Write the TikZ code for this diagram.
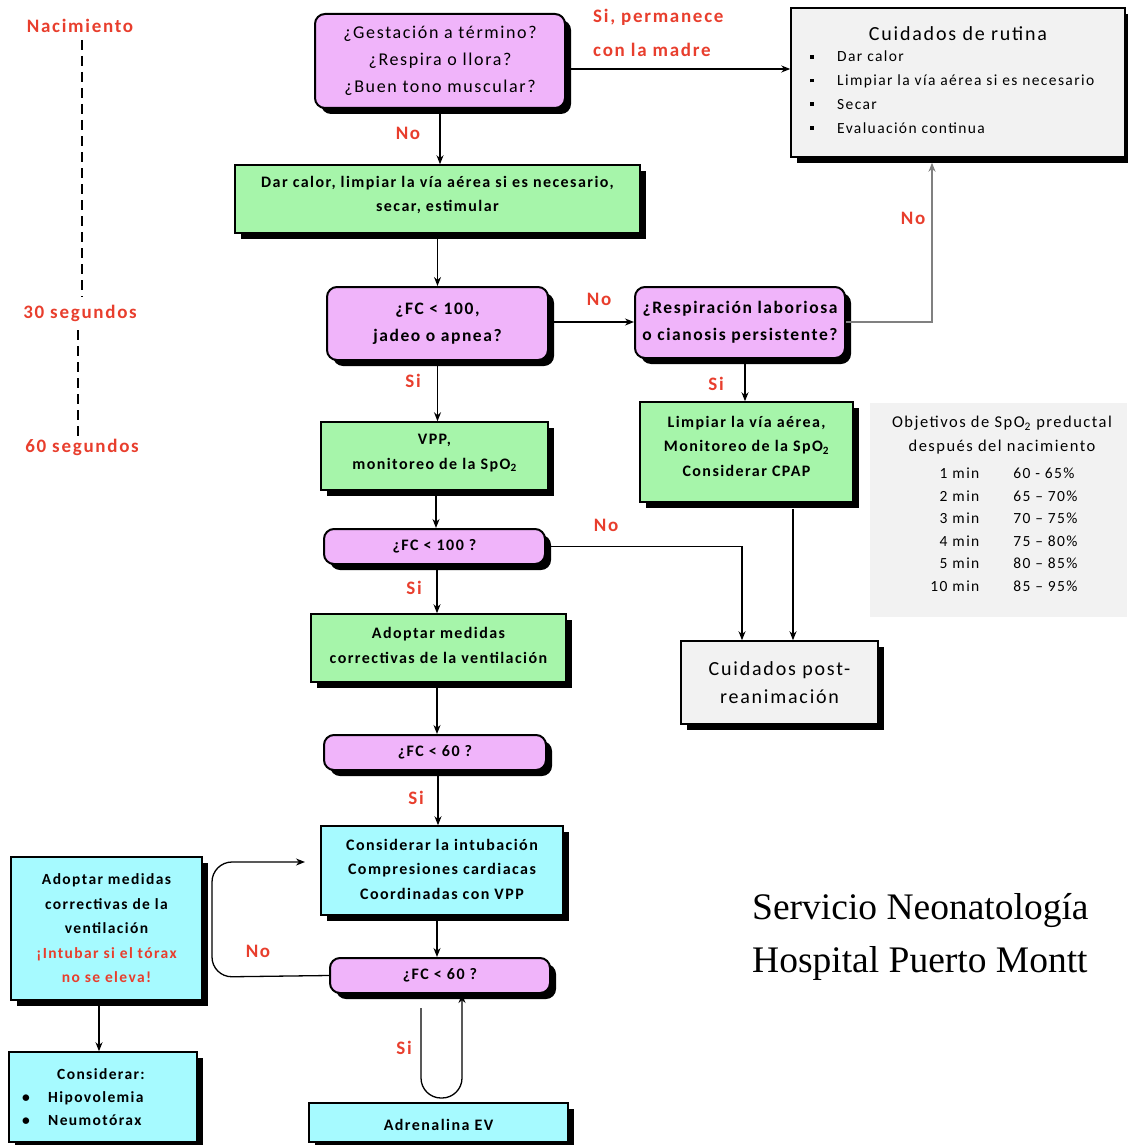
\documentclass[tikz,border=0pt]{standalone}
\usepackage{fontspec}
\setmainfont{Carlito}[LetterSpace=9]
\newfontfamily\serifont{Liberation Serif}
\usetikzlibrary{shadows,arrows.meta,calc}
\definecolor{pinkf}{RGB}{240,180,250}
\definecolor{greenf}{RGB}{166,245,170}
\definecolor{cyanf}{RGB}{166,250,255}
\definecolor{grayf}{RGB}{242,242,242}
\definecolor{redl}{RGB}{232,62,45}
\newcommand{\fsz}[2]{\fontsize{#1}{#2}\selectfont}
\newcommand{\sqb}{\raisebox{0.22em}{\rule{3.5pt}{3.5pt}}}
\begin{document}
\begin{tikzpicture}[x=1pt,y=-1pt,
  shadowed/.style={drop shadow={shadow xshift=6pt,shadow yshift=-6pt,fill=black,opacity=1}},
  box/.style={shadowed,draw=black,line width=1.5pt,inner sep=0pt,align=center,anchor=center},
  pinkbox/.style={box,fill=pinkf,rounded corners=10pt,line width=2pt},
  greenbox/.style={box,fill=greenf},
  cyanbox/.style={box,fill=cyanf},
  graybox/.style={box,fill=grayf},
  txt/.style={inner sep=0pt,align=center},
  arr/.style={draw=black,line width=1.3pt,-{Stealth[length=9pt,width=7pt]}},
  lbl/.style={text=redl,font=\fsz{19}{24}\bfseries,inner sep=0pt},
  tl/.style={text=redl,font=\fsz{19}{24}\bfseries,inner sep=0pt}
]
\useasboundingbox (0,0) rectangle (1127,1145);

% timeline
\node[tl] (nac) at (80,26) {Nacimiento};
\node[tl] (s30) at (80,313) {30 segundos};
\node[tl] (s60) at (82,447) {60 segundos};
\draw[line width=1.5pt,dash pattern=on 10pt off 6pt] (82,40) -- (82,297);
\draw[line width=1.5pt,dash pattern=on 10pt off 6pt] (78,330) -- (78,437);

% boxes
\node[pinkbox,minimum width=250pt,minimum height=94pt,font=\fsz{18}{27}] (gest) at (440,61)
  {¿Gestación a término?\\¿Respira o llora?\\¿Buen tono muscular?};
\node[graybox,minimum width=334pt,minimum height=149pt] (rut) at (958,82.5) {};
\node[font=\fsz{20}{24},inner sep=0pt] (rutt) at (958,34) {Cuidados de rutina};
\node[font=\fsz{15.5}{23.7},align=left,anchor=north west,inner sep=0pt] (rutl) at (810,51)
  {\makebox[27pt][l]{\sqb}Dar calor\\
   \makebox[27pt][l]{\sqb}Limpiar la vía aérea si es necesario\\
   \makebox[27pt][l]{\sqb}Secar\\
   \makebox[27pt][l]{\sqb}Evaluación continua};
\node[greenbox,minimum width=405pt,minimum height=68pt] (calor) at (437.5,199) {};
\node[txt,font=\fsz{16}{24}\bfseries] (calort) at (437.5,195)
  {Dar calor, limpiar la vía aérea si es necesario,\\secar, estimular};
\node[pinkbox,minimum width=221pt,minimum height=73pt,font=\fsz{17.5}{27}\bfseries] (fca) at (437.5,323.5)
  {¿FC < 100,\\jadeo o apnea?};
\node[pinkbox,minimum width=210pt,minimum height=71pt,font=\fsz{17.5}{27}\bfseries] (resp) at (740,322.5)
  {¿Respiración laboriosa\\o cianosis persistente?};
\node[greenbox,minimum width=227pt,minimum height=68pt] (vpp) at (434.5,456) {};
\node[txt,font=\fsz{16}{25}\bfseries] (vppt) at (434.5,453)
  {VPP,\\monitoreo de la SpO\textsubscript{2}};
\node[greenbox,minimum width=213pt,minimum height=100pt] (limp) at (746.5,452) {};
\node[txt,font=\fsz{16}{24.5}\bfseries] (limpt) at (746.5,446)
  {Limpiar la vía aérea,\\Monitoreo de la SpO\textsubscript{2}\\Considerar CPAP};
\node[fill=grayf,minimum width=257pt,minimum height=214pt,inner sep=0pt] (tab) at (998.5,510) {};
\node[font=\fsz{16.5}{24},align=center,inner sep=0pt,anchor=north] (tabt) at (1002,416)
  {Objetivos de SpO\textsubscript{2} preductal\\después del nacimiento};
\node[font=\fsz{15.5}{23.5},inner sep=0pt,anchor=north] (tabr) at (1004,462)
  {\begin{tabular}{@{}r@{\hspace{34pt}}l@{}}
  1 min & 60 - 65\%\\[-1pt]
  2 min & 65 -- 70\%\\[-1pt]
  3 min & 70 -- 75\%\\[-1pt]
  4 min & 75 -- 80\%\\[-1pt]
  5 min & 80 -- 85\%\\[-1pt]
  10 min & 85 -- 95\%
  \end{tabular}};
\node[pinkbox,minimum width=221pt,minimum height=35pt,font=\fsz{16}{20}\bfseries] (fcb) at (434.5,546.5) {¿FC < 100 ?};
\node[graybox,minimum width=197pt,minimum height=83pt,font=\fsz{20}{28}] (post) at (779.5,682.5)
  {Cuidados post-\\reanimación};
\node[greenbox,minimum width=255pt,minimum height=68pt] (adopt) at (438.5,648) {};
\node[txt,font=\fsz{16}{25}\bfseries] (adoptt) at (438.5,645)
  {Adoptar medidas\\correctivas de la ventilación};
\node[pinkbox,minimum width=222pt,minimum height=35pt,font=\fsz{16}{20}\bfseries] (fcc) at (435,752.5) {¿FC < 60 ?};
\node[cyanbox,minimum width=242pt,minimum height=89pt] (intub) at (442,870.5) {};
\node[txt,font=\fsz{16}{24.5}\bfseries] (intubt) at (442,869)
  {Considerar la intubación\\Compresiones cardiacas\\Coordinadas con VPP};
\node[pinkbox,minimum width=220pt,minimum height=35pt,font=\fsz{16}{20}\bfseries] (fcd) at (440,975.5) {¿FC < 60 ?};
\node[cyanbox,minimum width=191pt,minimum height=143pt,font=\fsz{15.5}{24.5}\bfseries] (left) at (106.5,928.5)
  {Adoptar medidas\\correctivas de la\\ventilación\\\textcolor{redl}{¡Intubar si el tórax}\\\textcolor{redl}{no se eleva!}};
\node[cyanbox,minimum width=188pt,minimum height=90pt] (consid) at (103,1097) {};
\node[font=\fsz{15.5}{23}\bfseries,align=left,anchor=north west,inner sep=0pt] (considt) at (22,1068)
  {\hspace*{35pt}Considerar:\\
   \makebox[26pt][l]{\textbullet}Hipovolemia\\
   \makebox[26pt][l]{\textbullet}Neumotórax};
\node[cyanbox,minimum width=259pt,minimum height=39pt] (adren) at (438.5,1122.5) {};
\node[txt,font=\fsz{16}{20}\bfseries] (adrent) at (438.5,1125) {Adrenalina EV};

% connectors
\draw[arr] (gest.east |- 0,69) -- (rut.west |- 0,69);
\node[lbl,anchor=west] (lsi1) at (593,17) {Si, permanece};
\node[lbl,anchor=west] (lsi2) at (593,50) {con la madre};
\draw[arr] (gest.south) -- (gest.south |- calor.north);
\node[lbl] (lno1) at (408,133) {No};
\draw[arr] (calor.south -| fca.north) -- (fca.north);
\draw[arr] (fca.east |- 0,322) -- (resp.west |- 0,322);
\node[lbl] (lno2) at (599,299) {No};
\coordinate (rutin) at ($(rut.south)+(-26,5)$);
\draw[arr,draw=gray] (resp.east |- 0,322) -| (rutin);
\node[lbl] (lno3) at (913,218) {No};
\draw[arr] (fca.south) -- (fca.south |- vpp.north);
\node[lbl] (lsi3) at (413,381) {Si};
\draw[arr] (resp.south -| 745,0) -- (limp.north -| 745,0);
\node[lbl] (lsi4) at (716,384) {Si};
\draw[arr] (vpp.south -| 436,0) -- (fcb.north -| 436,0);
\draw[arr] (fcb.east) -| (post.north -| 742,0);
\node[lbl] (lno4) at (606,525) {No};
\draw[arr] ($(limp.south -| 793,0)+(0,6)$) -- (post.north -| 793,0);
\draw[arr] (fcb.south -| 437,0) -- (adopt.north -| 437,0);
\node[lbl] (lsi5) at (414,588) {Si};
\draw[arr] (adopt.south -| 437,0) -- (fcc.north -| 437,0);
\draw[arr] (fcc.south -| 438,0) -- (intub.north -| 438,0);
\node[lbl] (lsi6) at (416,798) {Si};
\draw[arr] (intub.south -| 437,0) -- (fcd.north -| 437,0);
\coordinate (intin) at (305,862);
\draw[arr,rounded corners=20pt] (fcd.west) -- (212,977) -- (212,862) -- (intin);
\node[lbl] (lno5) at (258,951) {No};
\draw[arr] (left.south -| 99,0) -- (consid.north -| 99,0);
\coordinate (uloop) at (421,1008);
\draw[arr,rounded corners=20pt] (uloop) -- (421,1098) -- (462,1098) -- (fcd.south -| 462,0);
\node[lbl] (lsi7) at (404,1048) {Si};

% hospital
\node[font=\serifont\fsz{37.5}{53},align=left,anchor=north west,inner sep=0pt] (hosp) at (752,893)
  {Servicio Neonatología\\Hospital Puerto Montt};
\end{tikzpicture}
\end{document}
